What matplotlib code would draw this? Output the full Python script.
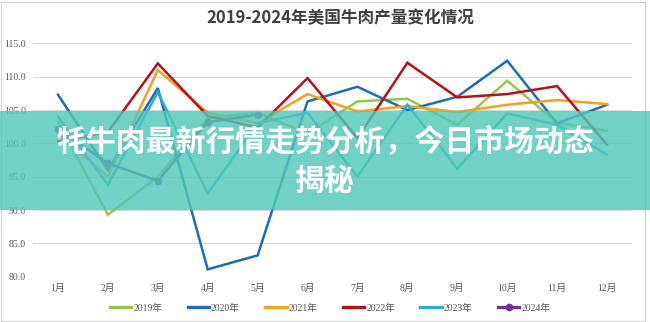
import matplotlib
matplotlib.use("Agg")
import matplotlib.pyplot as plt
from matplotlib.patches import Rectangle
from matplotlib.lines import Line2D

# data
months = ["1月", "2月", "3月", "4月", "5月", "6月", "7月", "8月", "9月", "10月", "11月", "12月"]
y2019 = [103.3, 89.3, 95.0, 103.8, 104.6, 101.5, 106.3, 106.7, 102.8, 109.4, 103.1, 101.9]
y2020 = [107.3, 96.0, 108.3, 81.1, 83.2, 106.3, 108.5, 105.0, 107.0, 112.4, 103.0, 105.8]
y2021 = [101.5, 95.0, 111.0, 104.6, 103.0, 107.4, 104.8, 105.6, 104.7, 105.8, 106.5, 105.9]
y2022 = [100.3, 101.7, 112.0, 104.1, 102.4, 109.8, 100.8, 112.1, 106.9, 107.4, 108.6, 99.8]
y2023 = [104.0, 93.8, 107.7, 92.5, 103.0, 104.6, 95.0, 105.8, 96.2, 104.5, 102.8, 98.3]
y2024 = [102.2, 97.0, 94.4, 103.2, 104.3]
yticks = [80.0, 85.0, 90.0, 95.0, 100.0, 105.0, 110.0, 115.0]

series = [
    ("2019年", y2019, "#92c84e", None),
    ("2020年", y2020, "#1f6db3", None),
    ("2021年", y2021, "#f3a21f", None),
    ("2022年", y2022, "#b5121b", None),
    ("2023年", y2023, "#22aed6", None),
    ("2024年", y2024, "#7030a0", "o"),
]

serif = ["Liberation Serif", "Noto Sans CJK SC"]
cjk = ["Noto Sans CJK SC", "DejaVu Sans"]

fig = plt.figure(figsize=(6.5, 3.22), dpi=100)
ax = fig.add_axes([0.0508, 0.1407, 0.9215, 0.7244])

x = list(range(len(months)))
handles = []
for name, vals, col, mk in series:
    ax.plot(x[:len(vals)], vals, color=col, lw=1.8, marker=mk, markersize=4.5,
            solid_joinstyle="miter")
    handles.append(Line2D([0], [0], color=col, lw=2.4, marker=mk, markersize=4.5, label=name))

ax.set_xlim(-0.5, 11.5)
ax.set_ylim(80, 115)
ax.set_yticks(yticks)
ax.set_yticklabels([f"{v:.1f}" for v in yticks], family=serif, fontsize=7, color="#595959")
ax.set_xticks(x)
ax.set_xticklabels(months, family=serif, fontsize=7, color="#595959")
ax.tick_params(length=0, pad=5)
ax.grid(axis="y", color="#d9d9d9", lw=0.8)
ax.set_axisbelow(True)
for s in ax.spines.values():
    s.set_visible(False)

fig.text(0.523, 0.945, "2019-2024年美国牛肉产量变化情况", family=cjk, fontsize=12,
         fontweight="bold", color="#404040", ha="center", va="center")

leg = fig.legend(handles=handles, loc="center", bbox_to_anchor=(0.508, 0.043), ncol=6,
                 frameon=False, handlelength=2.2, handletextpad=0.2, columnspacing=2.6,
                 prop={"family": serif, "size": 7})
for t in leg.get_texts():
    t.set_color("#595959")

# outer frame of the chart
fig.add_artist(Rectangle((0.0015, 0.003), 0.991, 0.99, transform=fig.transFigure,
                         fill=False, edgecolor="#d4d4d4", lw=0.8, zorder=4))

# teal overlay banner with headline
fig.add_artist(Rectangle((0, 1 - 210 / 322), 1, 99 / 322, transform=fig.transFigure,
                         facecolor=(0.32, 0.78, 0.72), alpha=0.82, edgecolor="none", zorder=5))
fig.text(0.5, 1 - 143 / 322, "牦牛肉最新行情走势分析，今日市场动态", family=cjk, fontsize=21.5,
         fontweight="bold", color="white", ha="center", va="center", zorder=6)
fig.text(0.5, 1 - 181 / 322, "揭秘", family=cjk, fontsize=21.5,
         fontweight="bold", color="white", ha="center", va="center", zorder=6)

fig.savefig("out.png", dpi=100)
